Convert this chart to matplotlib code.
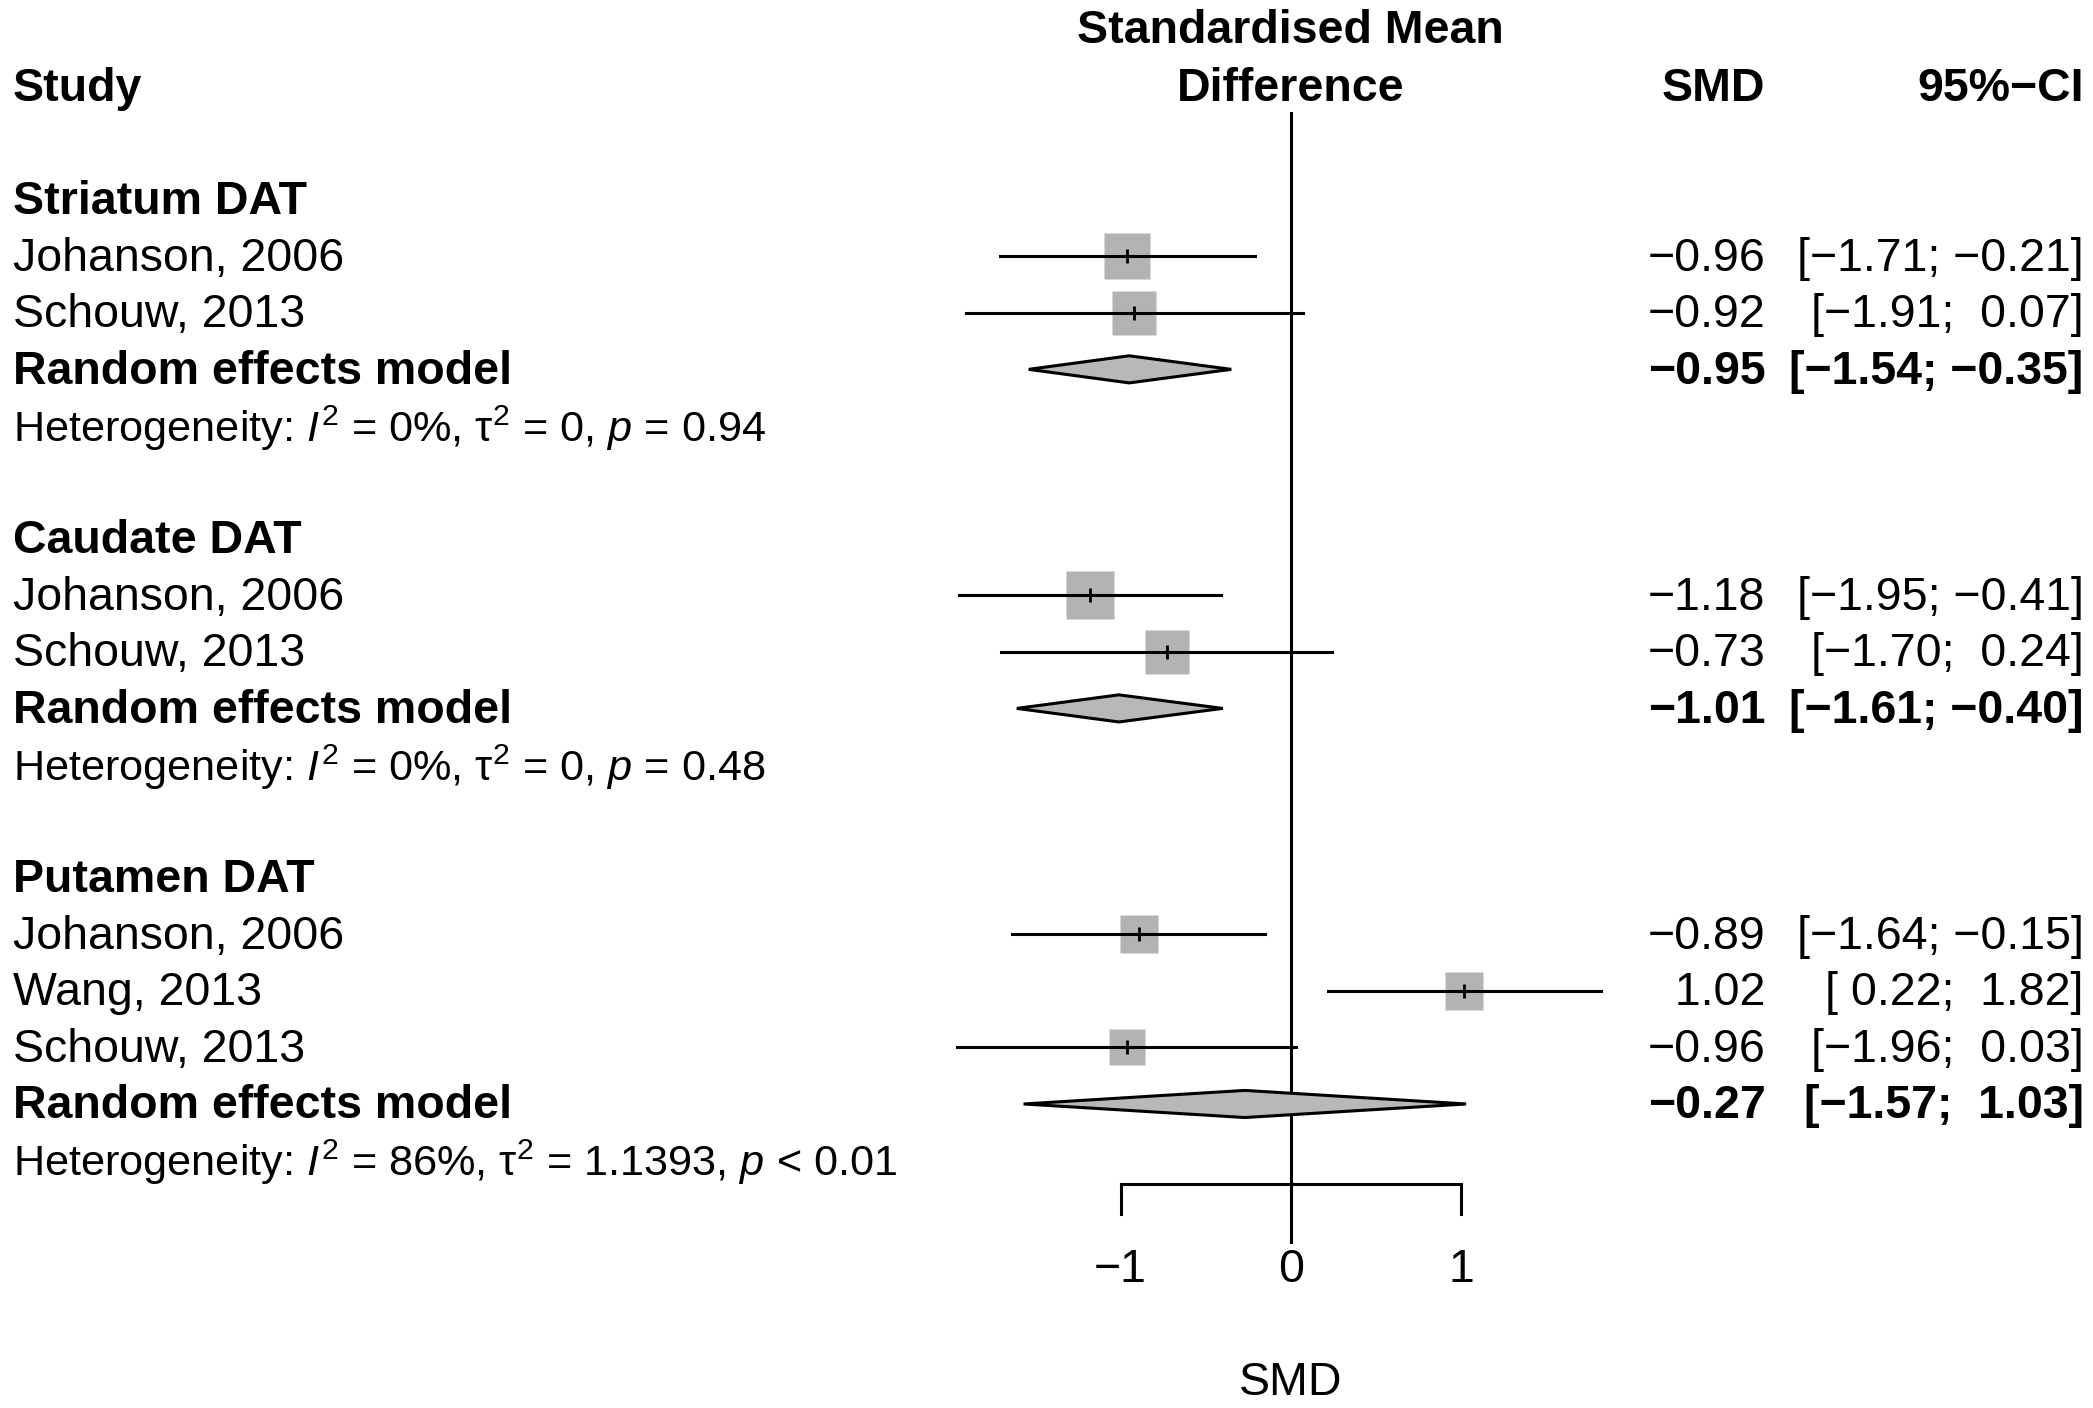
import numpy as np
import matplotlib
matplotlib.use("Agg")
import matplotlib.pyplot as plt
from matplotlib.transforms import blended_transform_factory

plt.rcParams['font.family'] = ['Liberation Sans', 'DejaVu Sans']
plt.rcParams['mathtext.fontset'] = 'custom'
plt.rcParams['mathtext.rm'] = 'Liberation Sans'
plt.rcParams['mathtext.it'] = 'Liberation Sans:italic'
plt.rcParams['mathtext.bf'] = 'Liberation Sans:bold'

# data
groups = ['Striatum DAT', 'Caudate DAT', 'Putamen DAT']
studies = [['Johanson, 2006', 'Schouw, 2013'],
           ['Johanson, 2006', 'Schouw, 2013'],
           ['Johanson, 2006', 'Wang, 2013', 'Schouw, 2013']]
smd = [[-0.96, -0.92], [-1.18, -0.73], [-0.89, 1.02, -0.96]]
ci_lo = [[-1.71, -1.91], [-1.95, -1.70], [-1.64, 0.22, -1.96]]
ci_hi = [[-0.21, 0.07], [-0.41, 0.24], [-0.15, 1.82, 0.03]]
weights = [[15.8, 15.1], [17.2, 15.1], [11.3, 10.7, 10.1]]
pooled = [-0.95, -1.01, -0.27]
pooled_lo = [-1.54, -1.61, -1.57]
pooled_hi = [-0.35, -0.40, 1.03]
i2 = ['0%', '0%', '86%']
tau2 = ['0', '0', '1.1393']
pval = ['= 0.94', '= 0.48', '< 0.01']
xticks = [-1, 0, 1]

FS = 33.5
sq_col = '#b3b3b3'
dia_col = '#b8b8b8'
dy = 0.04  # small nudge so text sits like the original


def fmt(v):
    s = '%.2f' % v
    if v < 0:
        return s.replace('-', '\u2212')
    return ' ' + s


def fmt_ci(lo, hi):
    return '[' + fmt(lo) + '; ' + fmt(hi) + ']'


fig = plt.figure(figsize=(20.93, 14.08), dpi=100)
ax = fig.add_axes([0, 0, 1, 1])
ax.set_xlim(-7.584, 4.713)
ax.set_ylim(23.38, -1.536)
ax.axis('off')

tr = blended_transform_factory(ax.transAxes, ax.transData)
x_left = 0.0062
x_smd = 0.8435
x_ci = 0.9955

# headers
ax.text(x_left, 0 + dy, 'Study', transform=tr, fontsize=FS, fontweight='bold', va='center', ha='left')
ax.text(0, -1.02 + dy, 'Standardised Mean', fontsize=FS, fontweight='bold', va='center', ha='center')
ax.text(0, 0 + dy, 'Difference', fontsize=FS, fontweight='bold', va='center', ha='center')
ax.text(x_smd, 0 + dy, 'SMD', transform=tr, fontsize=FS, fontweight='bold', va='center', ha='right')
ax.text(x_ci, 0 + dy, '95%\u2212CI', transform=tr, fontsize=FS, fontweight='bold', va='center', ha='right')

row = 2
for g in range(len(groups)):
    ax.text(x_left, row + dy, groups[g], transform=tr, fontsize=FS, fontweight='bold', va='center')
    row += 1
    for k in range(len(studies[g])):
        ax.text(x_left, row + dy, studies[g][k], transform=tr, fontsize=FS, va='center')
        ax.plot([ci_lo[g][k], ci_hi[g][k]], [row, row], color='black', lw=2.2, zorder=3)
        ax.plot(smd[g][k], row, marker='s', ms=8.2 * np.sqrt(weights[g][k]),
                color=sq_col, mec='none', zorder=2)
        ax.plot(smd[g][k], row, marker='|', ms=10, mew=2, color='black', zorder=4)
        ax.text(x_smd, row + dy, fmt(smd[g][k]), transform=tr, fontsize=FS, va='center', ha='right')
        ax.text(x_ci, row + dy, fmt_ci(ci_lo[g][k], ci_hi[g][k]), transform=tr, fontsize=FS,
                va='center', ha='right')
        row += 1
    # pooled estimate
    ax.text(x_left, row + dy, 'Random effects model', transform=tr, fontsize=FS, fontweight='bold', va='center')
    h = 0.24
    ax.fill([pooled_lo[g], pooled[g], pooled_hi[g], pooled[g]], [row, row - h, row, row + h],
            facecolor=dia_col, edgecolor='black', lw=2.2, zorder=3)
    ax.text(x_smd, row + dy, fmt(pooled[g]), transform=tr, fontsize=FS, fontweight='bold',
            va='center', ha='right')
    ax.text(x_ci, row + dy, fmt_ci(pooled_lo[g], pooled_hi[g]), transform=tr, fontsize=FS,
            fontweight='bold', va='center', ha='right')
    row += 1
    het = 'Heterogeneity: $I^2$ = %s, \u03c4$^2$ = %s, $p$ %s' % (i2[g], tau2[g], pval[g])
    ax.text(x_left, row + dy, het, transform=tr, fontsize=FS * 0.93, va='center')
    row += 2

# reference line and x axis
axis_y = 19.41
ax.plot([0, 0], [0.47, 20.45], color='black', lw=2.2, zorder=1)
ax.plot([min(xticks), max(xticks)], [axis_y, axis_y], color='black', lw=2.2)
for t in xticks:
    ax.plot([t, t], [axis_y, 19.95], color='black', lw=2.2)
    ax.text(t, 20.9 + dy, fmt(t).strip().replace('.00', ''), fontsize=FS, va='center', ha='center')
ax.text(0, 22.9 + dy, 'SMD', fontsize=FS, va='center', ha='center')

fig.savefig('out.png', dpi=100, facecolor='white')
